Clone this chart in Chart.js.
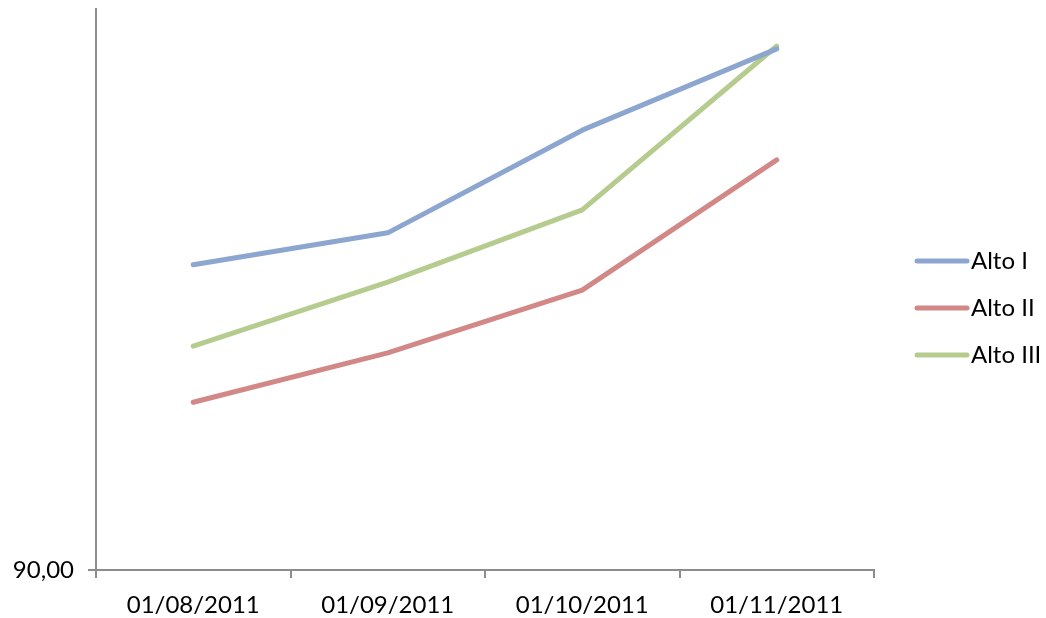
<!DOCTYPE html>
<html>
<head>
<meta charset="utf-8">
<script src="https://cdn.jsdelivr.net/npm/chart.js@4/dist/chart.umd.min.js"></script>
<style>
  html, body { margin: 0; padding: 0; background: #fff; }
  #wrap { width: 1046px; height: 618px; }
</style>
</head>
<body>
<div id="wrap"><canvas id="grafico"></canvas></div>
<script>
const fechas = ['01/08/2011', '01/09/2011', '01/10/2011', '01/11/2011'];
const altoI   = [95.44, 96.01, 97.84, 99.29];
const altoII  = [92.99, 93.87, 94.99, 97.31];
const altoIII = [93.99, 95.13, 96.42, 99.34];
const ticksY = [90];

const FUENTE = 'Lato, "Open Sans", sans-serif';
const GRIS = '#8c8c8c';

// leyenda a la derecha: trazo de línea + nombre de la serie
const leyenda = {
  id: 'leyenda',
  afterDraw(chart) {
    const c = chart.ctx;
    c.save();
    c.font = '24px ' + FUENTE;
    c.textBaseline = 'middle';
    chart.data.datasets.forEach((ds, i) => {
      const y = 261 + i * 47;
      c.strokeStyle = ds.borderColor;
      c.lineWidth = 5;
      c.lineCap = 'round';
      c.beginPath();
      c.moveTo(917, y);
      c.lineTo(967, y);
      c.stroke();
      c.fillStyle = '#000';
      c.fillText(ds.label, 971, y);
    });
    c.restore();
  }
};

const serie = (label, data, color) => ({
  label, data,
  borderColor: color,
  borderWidth: 5,
  borderCapStyle: 'round',
  borderJoinStyle: 'round',
  pointRadius: 0,
  tension: 0,
  fill: false
});

const ctx = document.getElementById('grafico').getContext('2d');
const grafico = new Chart(ctx, {
  type: 'line',
  data: {
    labels: fechas,
    datasets: [
      serie('Alto I', altoI, '#8ca6cf'),
      serie('Alto II', altoII, '#d18886'),
      serie('Alto III', altoIII, '#b5cc8e')
    ]
  },
  options: {
    responsive: true,
    maintainAspectRatio: false,
    animation: false,
    layout: { padding: { top: 9, right: 172, left: 0, bottom: 0 } },
    plugins: {
      legend: { display: false },
      tooltip: { enabled: false }
    },
    scales: {
      x: {
        offset: true,
        grid: {
          offset: true,
          drawOnChartArea: false,
          tickLength: 8,
          color: GRIS,
          lineWidth: 2
        },
        border: { color: GRIS, width: 2 },
        ticks: {
          color: '#000',
          font: { family: FUENTE, size: 24 },
          padding: 13,
          maxRotation: 0
        },
        afterFit: (s) => { s.height = 48; }
      },
      y: {
        min: 90,
        max: 100,
        afterBuildTicks: (s) => { s.ticks = ticksY.map(v => ({ value: v })); },
        grid: {
          drawOnChartArea: false,
          tickLength: 8,
          color: GRIS,
          lineWidth: 2
        },
        border: { color: GRIS, width: 2 },
        ticks: {
          color: '#000',
          font: { family: FUENTE, size: 24 },
          padding: 14,
          callback: (v) => v.toFixed(2).replace('.', ',')
        },
        afterFit: (s) => {
          s.width = 96;
          s.paddingTop = 0;
          s.paddingBottom = 0;
        }
      }
    }
  },
  plugins: [leyenda]
});
</script>
</body>
</html>
